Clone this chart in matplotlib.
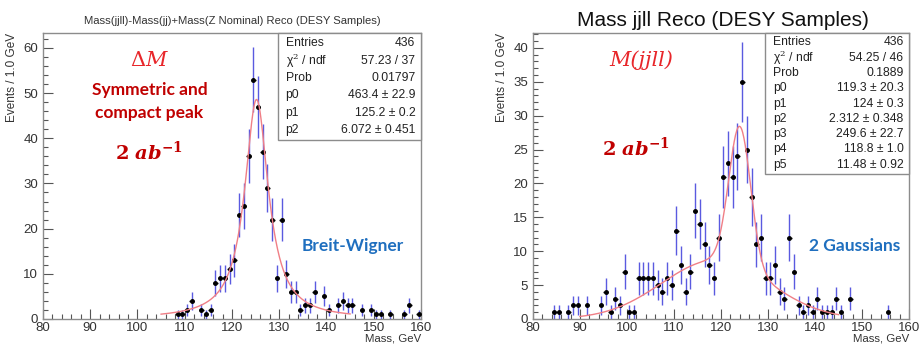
import numpy as np
import matplotlib
matplotlib.use("Agg")
import matplotlib.pyplot as plt
from matplotlib.ticker import MultipleLocator
from matplotlib.patches import Rectangle

plt.rcParams["font.family"] = ["Liberation Sans", "DejaVu Sans"]
plt.rcParams["mathtext.fontset"] = "dejavuserif"

# left panel: Mass(jjll)-Mass(jj)+Mass(Z), bin centres and counts
left_mass = [108.5, 109.5, 110.5, 111.5, 113.5, 114.5, 115.5, 116.5, 117.5, 118.5,
             119.5, 120.5, 121.5, 122.5, 123.5, 124.5, 125.5, 126.5, 127.5, 128.5,
             129.5, 130.5, 131.5, 132.5, 133.5, 134.5, 135.5, 136.5, 137.5, 139.5,
             140.5, 142.5, 143.5, 144.5, 145.5, 147.5, 149.5, 150.5, 151.5, 153.5,
             156.5, 157.5, 159.5]
left_counts = [1, 1, 2, 4, 2, 1, 2, 8, 9, 9,
               11, 13, 23, 25, 36, 53, 47, 37, 29, 22,
               9, 22, 10, 6, 6, 2, 3, 3, 6, 5,
               2, 3, 4, 3, 3, 2, 2, 1, 1, 1,
               1, 3, 1]
left_stats = [("Entries", "436"), ("\u03c7$^{2}$ / ndf", "57.23 / 37"),
              ("Prob", "0.01797"), ("p0", "463.4 \u00b1 22.9"),
              ("p1", "125.2 \u00b1 0.2"), ("p2", "6.072 \u00b1 0.451")]
bw_par = [463.4, 125.2, 6.072]
bw_range = [105, 145]

# right panel: Mass jjll
right_mass = [84.5, 85.5, 87.5, 88.5, 89.5, 91.5, 94.5, 95.5, 96.5, 97.5,
              98.5, 99.5, 100.5, 101.5, 102.5, 103.5, 104.5, 105.5, 106.5, 107.5,
              108.5, 109.5, 110.5, 111.5, 112.5, 113.5, 114.5, 115.5, 116.5, 117.5,
              118.5, 119.5, 120.5, 121.5, 122.5, 123.5, 124.5, 125.5, 126.5, 127.5,
              128.5, 129.5, 130.5, 131.5, 132.5, 133.5, 134.5, 135.5, 136.5, 137.5,
              138.5, 139.5, 140.5, 141.5, 142.5, 143.5, 144.5, 145.5, 147.5, 155.5]
right_counts = [1, 1, 1, 2, 2, 2, 2, 4, 1, 3,
                2, 7, 1, 1, 6, 6, 6, 6, 5, 4,
                6, 5, 13, 8, 4, 7, 16, 14, 11, 8,
                6, 12, 21, 23, 21, 24, 35, 25, 18, 11,
                12, 6, 6, 8, 4, 3, 12, 7, 2, 1,
                2, 1, 3, 1, 1, 1, 3, 1, 3, 1]
right_stats = [("Entries", "436"), ("\u03c7$^{2}$ / ndf", "54.25 / 46"),
               ("Prob", "0.1889"), ("p0", "119.3 \u00b1 20.3"),
               ("p1", "124 \u00b1 0.3"), ("p2", "2.312 \u00b1 0.348"),
               ("p3", "249.6 \u00b1 22.7"), ("p4", "118.8 \u00b1 1.0"),
               ("p5", "11.48 \u00b1 0.92")]
gg_par = [119.3, 124.0, 2.312, 249.6, 118.8, 11.48]
gg_range = [90, 145]

ERR_BLUE = "#5a5ae0"
FIT_RED = "#f07f86"
FRAME = "#8c8c8c"


def breit_wigner(x, p):
    return p[0] * p[2] / (2 * np.pi) / ((x - p[1]) ** 2 + p[2] ** 2 / 4)


def gausn(x, norm, mean, sigma):
    return norm / (np.sqrt(2 * np.pi) * sigma) * np.exp(-0.5 * ((x - mean) / sigma) ** 2)


def draw_hist(ax, mass, counts, ymax, ymajor, yminor):
    mass = np.array(mass)
    counts = np.array(counts)
    ax.errorbar(mass, counts, yerr=np.sqrt(counts), fmt="none",
                ecolor=ERR_BLUE, elinewidth=1.0, capsize=0, zorder=2)
    ax.errorbar(mass, counts, xerr=0.5, fmt="o", color="black", ms=2.5,
                elinewidth=1.0, capsize=0, zorder=3)
    ax.set_xlim(80, 160)
    ax.set_ylim(0, ymax)
    ax.xaxis.set_major_locator(MultipleLocator(10))
    ax.xaxis.set_minor_locator(MultipleLocator(2))
    ax.yaxis.set_major_locator(MultipleLocator(ymajor))
    ax.yaxis.set_minor_locator(MultipleLocator(yminor))
    ax.tick_params(which="both", direction="in", colors="#555555",
                   labelcolor="#333333", labelsize=9.5, width=0.8)
    ax.tick_params(which="major", length=7)
    ax.tick_params(which="minor", length=3.5)
    ax.tick_params(axis="x", pad=2)
    for sp in ax.spines.values():
        sp.set_color(FRAME)
        sp.set_linewidth(1.0)
    ax.set_ylabel("Events / 1.0 GeV", loc="top", fontsize=8.5, color="#333333")
    ax.set_xlabel("Mass, GeV", loc="right", fontsize=8.2, color="#333333",
                  labelpad=0)


def draw_stats(ax, rows, x0, y0, row_h):
    h = row_h * len(rows) + 0.012
    ax.add_patch(Rectangle((x0, 1 - h), 1 - x0, h, transform=ax.transAxes,
                           facecolor="white", edgecolor=FRAME, lw=1.0,
                           zorder=5, clip_on=False))
    for i, (name, val) in enumerate(rows):
        y = 1 - 0.006 - row_h * (i + 0.5)
        ax.text(x0 + 0.02, y, name, transform=ax.transAxes, fontsize=8.7,
                va="center", ha="left", color="#222222", zorder=6)
        ax.text(0.985, y, val, transform=ax.transAxes, fontsize=8.7,
                va="center", ha="right", color="#222222", zorder=6)


def main():
    fig = plt.figure(figsize=(9.22, 3.45), dpi=100)
    ax1 = fig.add_axes([0.0466, 0.0754, 0.41, 0.829])
    ax2 = fig.add_axes([0.578, 0.0754, 0.408, 0.829])

    draw_hist(ax1, left_mass, left_counts, 63.3, 10, 2)
    x = np.linspace(bw_range[0], bw_range[1], 400)
    ax1.plot(x, breit_wigner(x, bw_par), color=FIT_RED, lw=1.0, zorder=4)
    draw_stats(ax1, left_stats, 0.622, 0.0, 0.0605)
    fig.text(0.252, 0.94, "Mass(jjll)-Mass(jj)+Mass(Z Nominal) Reco (DESY Samples)",
             ha="center", va="center", fontsize=8.1, color="#333333")

    draw_hist(ax2, right_mass, right_counts, 42.2, 5, 1)
    x = np.linspace(gg_range[0], gg_range[1], 400)
    y = gausn(x, gg_par[0], gg_par[1], gg_par[2]) + gausn(x, gg_par[3], gg_par[4], gg_par[5])
    ax2.plot(x, y, color=FIT_RED, lw=1.0, zorder=4)
    draw_stats(ax2, right_stats, 0.618, 0.0, 0.0535)
    fig.text(0.784, 0.94, "Mass jjll Reco (DESY Samples)",
             ha="center", va="center", fontsize=15, color="#111111")

    red = "#e8262a"
    dark_red = "#c00000"
    blue = "#1f6fbf"
    ann = ["Lato", "DejaVu Sans"]

    fig.text(0.162, 0.826, r"$\Delta M$", ha="center", va="center",
             fontsize=15, color=red)
    fig.text(0.162, 0.738, "Symmetric and", ha="center", va="center",
             fontsize=12.5, color=dark_red, fontweight="bold", family=ann)
    fig.text(0.162, 0.672, "compact peak", ha="center", va="center",
             fontsize=12.5, color=dark_red, fontweight="bold", family=ann)
    fig.text(0.162, 0.558, r"$\mathbf{2}\ \boldsymbol{ab}^{\mathbf{-1}}$",
             ha="center", va="center", fontsize=14, color=dark_red)
    fig.text(0.383, 0.288, "Breit-Wigner", ha="center", va="center",
             fontsize=12.5, color=blue, fontweight="bold", family=ann)

    fig.text(0.696, 0.826, "M(jjll)", ha="center", va="center",
             fontsize=15, color=red, family="DejaVu Serif", style="italic")
    fig.text(0.69, 0.57, r"$\mathbf{2}\ \boldsymbol{ab}^{\mathbf{-1}}$",
             ha="center", va="center", fontsize=14, color=dark_red)
    fig.text(0.927, 0.288, "2 Gaussians", ha="center", va="center",
             fontsize=12.5, color=blue, fontweight="bold", family=ann)

    fig.savefig("out.png", dpi=100)


if __name__ == "__main__":
    main()
